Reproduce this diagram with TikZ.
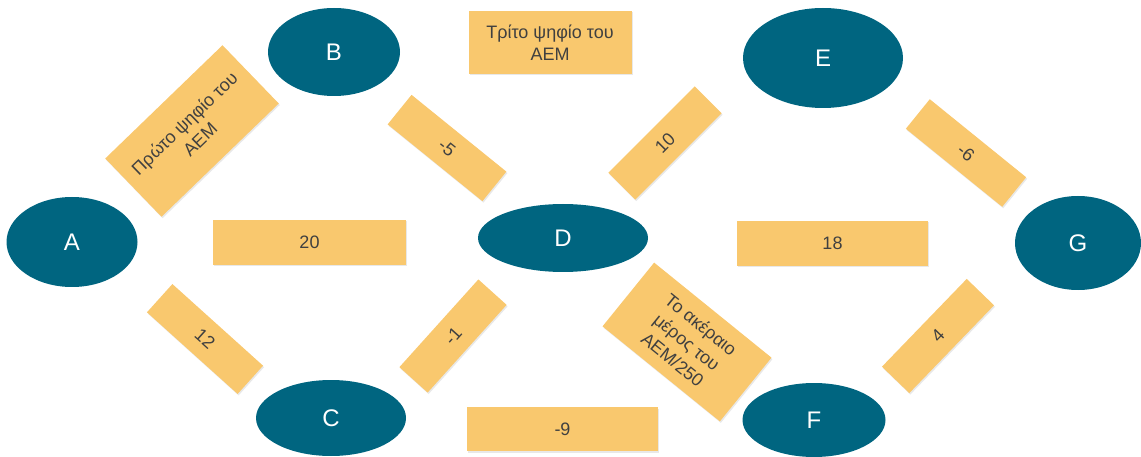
\documentclass[tikz,border=0pt]{standalone}
\usepackage{fontspec}
\setmainfont{Liberation Sans}
\usetikzlibrary{shapes.geometric,shadows}
\definecolor{nodeteal}{RGB}{0,101,128}
\definecolor{costsand}{RGB}{249,200,110}
\definecolor{costink}{RGB}{64,64,64}

\begin{document}
\begin{tikzpicture}[x=1pt, y=-1pt,
    main/.style = {ellipse, fill=nodeteal, text=white, inner sep=0pt, font=\fontsize{24}{28}\selectfont},
    cost/.style = {rectangle, fill=costsand, text=costink, inner sep=0pt, align=center,
                   font=\fontsize{18}{22.5}\selectfont,
                   drop shadow={opacity=0.18, shadow xshift=1pt, shadow yshift=-1.5pt}},
    edgebox/.style = {cost, minimum width=122pt, minimum height=38pt}]
    \useasboundingbox (0,0) rectangle (1141,457);
			% vertices
			\node[main, minimum width=131pt, minimum height=90pt] (A) at (72,242) {A};
			\node[main, minimum width=132pt, minimum height=88pt] (B) at (334,52) {B};
			\node[main, minimum width=150pt, minimum height=76pt] (C) at (331,418) {C};
			\node[main, minimum width=170pt, minimum height=68pt] (D) at (563,238) {D};
			\node[main, minimum width=160pt, minimum height=100pt] (E) at (823,58) {E};
			\node[main, minimum width=143pt, minimum height=74pt] (F) at (814,420) {F};
			\node[main, minimum width=126pt, minimum height=94pt] (G) at (1078,243) {G};
			% weights
			\node[cost, minimum width=163pt, minimum height=81pt, rotate=44] (ab) at (192,131) {Πρώτο ψηφίο του\\ΑΕΜ};
			\node[edgebox, rotate=-39] (bd) at (447,148) {-5};
			\node[cost, minimum width=193pt, minimum height=45pt] (ad) at (309.5,242.5) {20};
			\node[edgebox, rotate=-42] (ac) at (205,339) {12};
			\node[edgebox, minimum width=118pt, rotate=48] (cd) at (453,336) {-1};
			\node[cost, minimum width=191pt, minimum height=44pt] (cf) at (562.5,429) {-9};
			\node[cost, minimum width=163pt, minimum height=63pt] (be) at (550,42.5) {Τρίτο ψηφίο του\\ΑΕΜ};
			\node[edgebox, rotate=45] (de) at (665,143) {10};
			\node[cost, minimum width=151pt, minimum height=82pt, rotate=-39] (df) at (687,342) {Το ακέραιο\\μέρος του\\ΑΕΜ/250};
			\node[cost, minimum width=191pt, minimum height=45pt] (dg) at (832.5,243.5) {18};
			\node[edgebox, minimum width=124pt, rotate=-39] (eg) at (966,153) {-6};
			\node[edgebox, rotate=46] (fg) at (938,336) {4};
\end{tikzpicture}
\end{document}
